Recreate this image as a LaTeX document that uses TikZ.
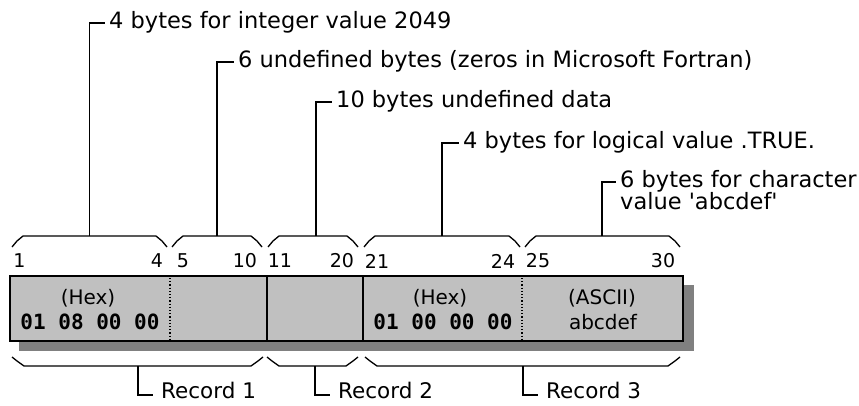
\documentclass[tikz,border=0pt]{standalone}
\usepackage{fontspec}
\setmainfont{DejaVu Sans}
\newfontfamily\hexfont{DejaVu Sans Mono}
\definecolor{boxgray}{HTML}{C0C0C0}
\definecolor{shadowgray}{HTML}{808080}
\begin{document}
\begin{tikzpicture}[x=1pt,y=-1pt,
  lbl/.style={font=\fontsize{22.5}{25}\selectfont, anchor=west, inner xsep=4pt, inner ysep=0pt, text height=15.5pt, text depth=4.5pt},
  reclbl/.style={lbl, font=\fontsize{21.5}{24}\selectfont, inner xsep=8pt, text depth=9.5pt},
  num/.style={font=\fontsize{19}{22}\selectfont, inner sep=0pt},
  cell/.style={font=\fontsize{20}{22}\selectfont, inner sep=0pt},
  hex/.style={font=\hexfont\bfseries\fontsize{21}{22}\selectfont, inner sep=0pt},
  brace/.style={line width=1.3pt, line join=miter},
  conn/.style={line width=1.7pt},
  divider/.style={line width=1.5pt},
  dotdiv/.style={line width=1.2pt, dotted},
]
\useasboundingbox (0,0) rectangle (859,406);

% record bar with shadow
\fill[shadowgray] (19,285) rectangle (694,351);
\draw[line width=1.8pt, fill=boxgray] (10,276) rectangle (683,341);
\draw[divider] (267,276) -- (267,341);
\draw[divider] (363,276) -- (363,341);
\draw[dotdiv] (170,278) -- (170,340);
\draw[dotdiv] (522,278) -- (522,340);

% texts inside the bar
\node[cell] (hexa) at (88,298) {(Hex)};
\node[hex] (vala) at (90,322) {01 08 00 00};
\node[cell] (hexb) at (440,298) {(Hex)};
\node[hex] (valb) at (443,322) {01 00 00 00};
\node[cell] (ascii) at (602,298) {(ASCII)};
\node[cell] (valc) at (603,322) {abcdef};

% byte numbers
\foreach \x/\t in {19.5/1, 157/4, 183/5, 245/10, 280/11, 342/20, 377/21, 503/24, 538/25, 663/30}
  \node[num] at (\x,261) {\t};

% top braces
\foreach \a/\b/\m/\n in {12/167/89.5/t1, 172/262/217/t2, 268/358/316/t3, 364/520/442/t4, 525/680/602/t5}{
  \draw[brace] (\a,247) -- (\a+5,241) -- (\a+11,236) -- (\b-11,236) -- (\b-5,241) -- (\b,247);
  \coordinate (\n) at (\m,236);
}

% bottom braces
\foreach \a/\b/\m/\n in {12/263/138/r1, 267/358/315/r2, 365/680/523/r3}{
  \draw[brace] (\a,357) -- (\a+5,361) -- (\a+12,366) -- (\b-12,366) -- (\b-5,361) -- (\b,357);
  \coordinate (\n) at (\m,366);
}

% top labels
\node[lbl] (l1) at (105,23) {4 bytes for integer value 2049};
\node[lbl] (l2) at (234,62) {6 undefined bytes (zeros in Microsoft Fortran)};
\node[lbl] (l3) at (332,102) {10 bytes undefined data};
\node[lbl] (l4) at (459,143) {4 bytes for logical value .TRUE.};
\node[lbl] (l5) at (616,182) {6 bytes for character};
\node[lbl] (l5b) at ([yshift=-22.5pt]l5.west) {value \textquotesingle abcdef\textquotesingle};

\draw[conn] (t1) |- (l1.west);
\draw[conn] (t2) |- (l2.west);
\draw[conn] (t3) |- (l3.west);
\draw[conn] (t4) |- (l4.west);
\draw[conn] (t5) |- (l5.west);

% record labels
\node[reclbl] (rc1) at (153,395) {Record 1};
\node[reclbl] (rc2) at (330,395) {Record 2};
\node[reclbl] (rc3) at (538,395) {Record 3};

\draw[conn] (r1) |- (rc1.west);
\draw[conn] (r2) |- (rc2.west);
\draw[conn] (r3) |- (rc3.west);
\end{tikzpicture}
\end{document}
